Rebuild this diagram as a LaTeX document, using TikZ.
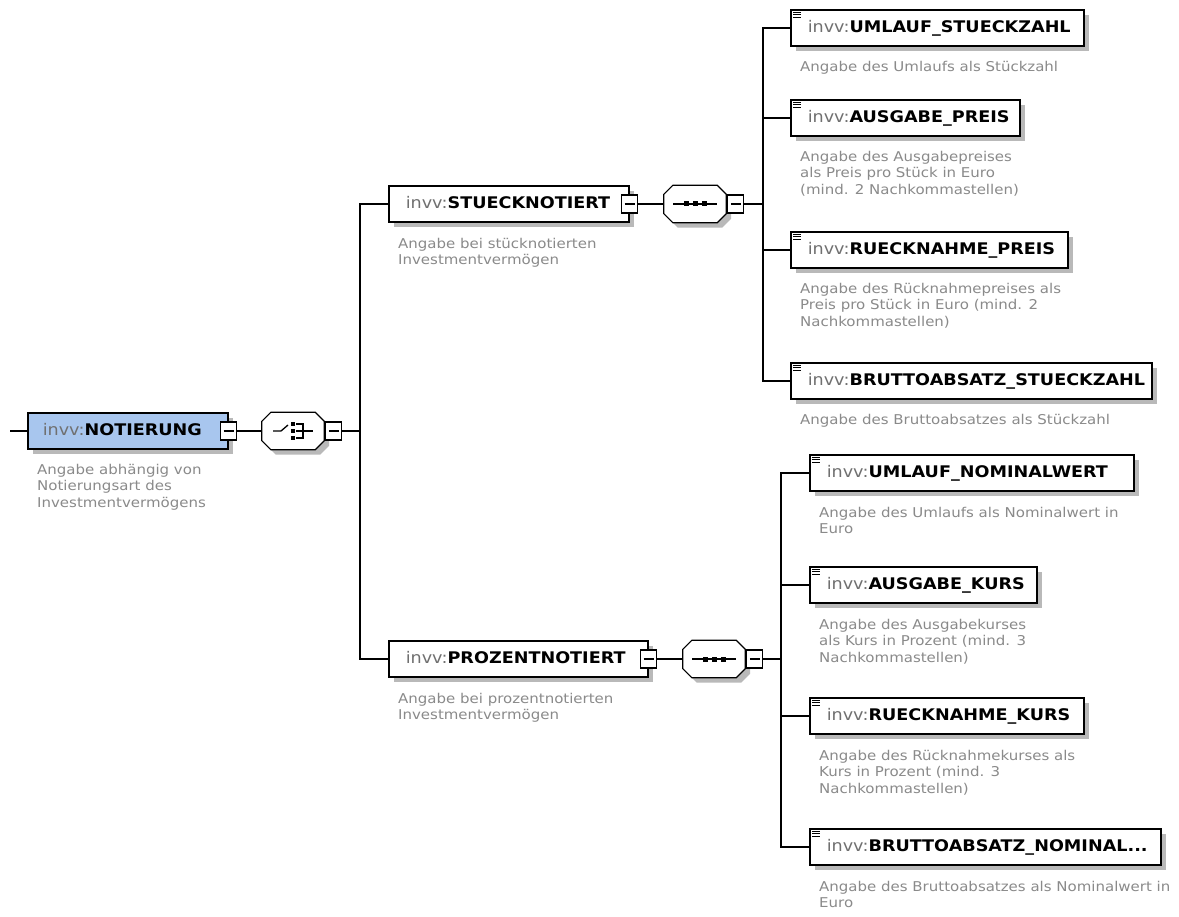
\documentclass[tikz,border=0pt]{standalone}
\usepackage{fontspec}
\setmainfont{DejaVu Sans}
\newfontfamily\tfont[FakeStretch=1.1]{DejaVu Sans}
\newfontfamily\dfont[FakeStretch=1.11]{DejaVu Sans}
\usetikzlibrary{shadows}
\definecolor{pfx}{RGB}{112,112,112}
\definecolor{desccol}{RGB}{138,138,138}
\definecolor{selfill}{RGB}{168,198,238}
\definecolor{shadcol}{RGB}{185,185,185}
\newcommand\elemname[1]{\mbox{{\color{pfx}invv:}{\bfseries #1}}}
\tikzset{
  conn/.style={line width=1.3pt, black},
  elem/.style={draw=black, line width=1.5pt, fill=white, anchor=west, inner xsep=#1, inner ysep=0pt,
    minimum height=36pt, text height=12pt, text depth=3.5pt, align=left,
    font=\tfont\fontsize{16}{18}\selectfont,
    general shadow={fill=shadcol, shadow xshift=5pt, shadow yshift=-5pt}},
  elem/.default=17pt,
  minusbox/.style={draw=black, line width=1.1pt, fill=white, minimum width=16pt, minimum height=18pt, inner sep=0pt,
    path picture={\draw[line width=1.1pt] ([xshift=3pt]path picture bounding box.west) -- ([xshift=-3pt]path picture bounding box.east);}},
  octbox/.style={minimum width=62pt, minimum height=37pt, inner sep=0pt},
  octline/.style={draw=black, line width=1.2pt, fill=white},
  desc/.style={anchor=north west, inner sep=0pt, align=left, text=desccol,
    font=\dfont\fontsize{13.5}{16.5}\selectfont},
  dotsq/.style={fill=black, minimum size=5pt, inner sep=0pt},
}
\newcommand\leaficon[1]{%
  \foreach \yy in {3,5.5,8} {\draw[line width=0.9pt] ([xshift=3pt,yshift=-\yy pt]#1.north west) -- ++(8pt,0);}}
\newcommand\octpath[1]{([xshift=9pt]#1.north west) -- ([xshift=-9pt]#1.north east) -- ([yshift=-9pt]#1.north east)
  -- ([yshift=9pt]#1.south east) -- ([xshift=-9pt]#1.south east) -- ([xshift=9pt]#1.south west)
  -- ([yshift=9pt]#1.south west) -- ([yshift=-9pt]#1.north west) -- cycle}
\newcommand\drawoct[1]{%
  \begin{scope}[transform canvas={xshift=5pt,yshift=-5pt}]\fill[shadcol] \octpath{#1};\end{scope}
  \path[octline] \octpath{#1};}
\begin{document}
\begin{tikzpicture}[x=1pt,y=-1pt]
\useasboundingbox (0,0) rectangle (1179,917);
\fill[white] (0,0) rectangle (1179,917);

% root element
\node[elem=15pt, fill=selfill, text width=170pt] (noti) at (27,431) {\elemname{NOTIERUNG}};
\node[minusbox] (notim) at (noti.east) {};
\coordinate (in) at (10,431);
\draw[conn] (in) -- (noti.west);
\node[desc] (notid) at (37,464) {Angabe abhängig von\\Notierungsart des\\Investmentvermögens};

% choice
\node[octbox] (ch) at (293,431) {};
\drawoct{ch}
\node[minusbox, anchor=west] (chm) at ([xshift=1pt]ch.east) {};
\draw[conn] (notim.east) -- (ch.west);
\begin{scope}[shift={(ch.center)}, line width=1.3pt]
  \draw (-20,0) -- (-12,0) -- (-5,-6);
  \node[dotsq, minimum size=4pt] at (0,-7) {};
  \node[dotsq, minimum size=4pt] at (0,0) {};
  \node[dotsq, minimum size=4pt] at (0,7) {};
  \draw (3,-7) -- (10,-7) -- (10,7) -- (3,7);
  \draw (3,0) -- (20,0);
\end{scope}

% level 1 elements
\node[elem, text width=206pt] (stk) at (388,204) {\elemname{STUECKNOTIERT}};
\node[minusbox] (stkm) at (stk.east) {};
\node[desc] (stkd) at (398,238) {Angabe bei stücknotierten\\Investmentvermögen};
\node[elem, text width=225pt] (pzt) at (388,659) {\elemname{PROZENTNOTIERT}};
\node[minusbox] (pztm) at (pzt.east) {};
\node[desc] (pztd) at (398,693) {Angabe bei prozentnotierten\\Investmentvermögen};

\coordinate (b1) at (360,431);
\draw[conn] (chm.east) -- (b1);
\draw[conn] (stk.west) -| (b1) |- (pzt.west);

% sequences
\node[octbox] (sq1) at (695,204) {};
\drawoct{sq1}
\node[minusbox, anchor=west] (sq1m) at ([xshift=1pt]sq1.east) {};
\draw[conn] (stkm.east) -- (sq1.west);
\node[octbox] (sq2) at (714,659) {};
\drawoct{sq2}
\node[minusbox, anchor=west] (sq2m) at ([xshift=1pt]sq2.east) {};
\draw[conn] (pztm.east) -- (sq2.west);
\foreach \s in {sq1,sq2} {
  \begin{scope}[shift={(\s.center)}]
    \draw[line width=1.3pt] (-22,0) -- (22,0);
    \node[dotsq] at (-9,0) {};
    \node[dotsq] at (0,0) {};
    \node[dotsq] at (9,0) {};
  \end{scope}
}

% leaves of STUECKNOTIERT
\node[elem, text width=259pt] (us) at (790,28) {\elemname{UMLAUF\_STUECKZAHL}};
\leaficon{us}
\node[desc] (usd) at (800,61) {Angabe des Umlaufs als Stückzahl};
\node[elem, text width=195pt] (ap) at (790,118) {\elemname{AUSGABE\_PREIS}};
\leaficon{ap}
\node[desc] (apd) at (800,151) {Angabe des Ausgabepreises\\als Preis pro Stück in Euro\\(mind. 2 Nachkommastellen)};
\node[elem, text width=243pt] (rp) at (790,250) {\elemname{RUECKNAHME\_PREIS}};
\leaficon{rp}
\node[desc] (rpd) at (800,283) {Angabe des Rücknahmepreises als\\Preis pro Stück in Euro (mind. 2\\Nachkommastellen)};
\node[elem, text width=327pt] (bs) at (790,381) {\elemname{BRUTTOABSATZ\_STUECKZAHL}};
\leaficon{bs}
\node[desc] (bsd) at (800,414) {Angabe des Bruttoabsatzes als Stückzahl};

\coordinate (b2) at (763,204);
\draw[conn] (sq1m.east) -- (b2);
\draw[conn] (us.west) -| (b2) |- (bs.west);
\draw[conn] (ap.west) -- (ap.west -| b2);
\draw[conn] (rp.west) -- (rp.west -| b2);

% leaves of PROZENTNOTIERT
\node[elem, text width=290pt] (un) at (809,473) {\elemname{UMLAUF\_NOMINALWERT}};
\leaficon{un}
\node[desc] (und) at (819,507) {Angabe des Umlaufs als Nominalwert in\\Euro};
\node[elem, text width=193pt] (ak) at (809,585) {\elemname{AUSGABE\_KURS}};
\leaficon{ak}
\node[desc] (akd) at (819,619) {Angabe des Ausgabekurses\\als Kurs in Prozent (mind. 3\\Nachkommastellen)};
\node[elem, text width=240pt] (rk) at (809,716) {\elemname{RUECKNAHME\_KURS}};
\leaficon{rk}
\node[desc] (rkd) at (819,750) {Angabe des Rücknahmekurses als\\Kurs in Prozent (mind. 3\\Nachkommastellen)};
\node[elem, text width=317pt] (bn) at (809,847) {\elemname{BRUTTOABSATZ\_NOMINAL...}};
\leaficon{bn}
\node[desc] (bnd) at (819,881) {Angabe des Bruttoabsatzes als Nominalwert in\\Euro};

\coordinate (b3) at (781,659);
\draw[conn] (sq2m.east) -- (b3);
\draw[conn] (un.west) -| (b3) |- (bn.west);
\draw[conn] (ak.west) -- (ak.west -| b3);
\draw[conn] (rk.west) -- (rk.west -| b3);
\end{tikzpicture}
\end{document}
